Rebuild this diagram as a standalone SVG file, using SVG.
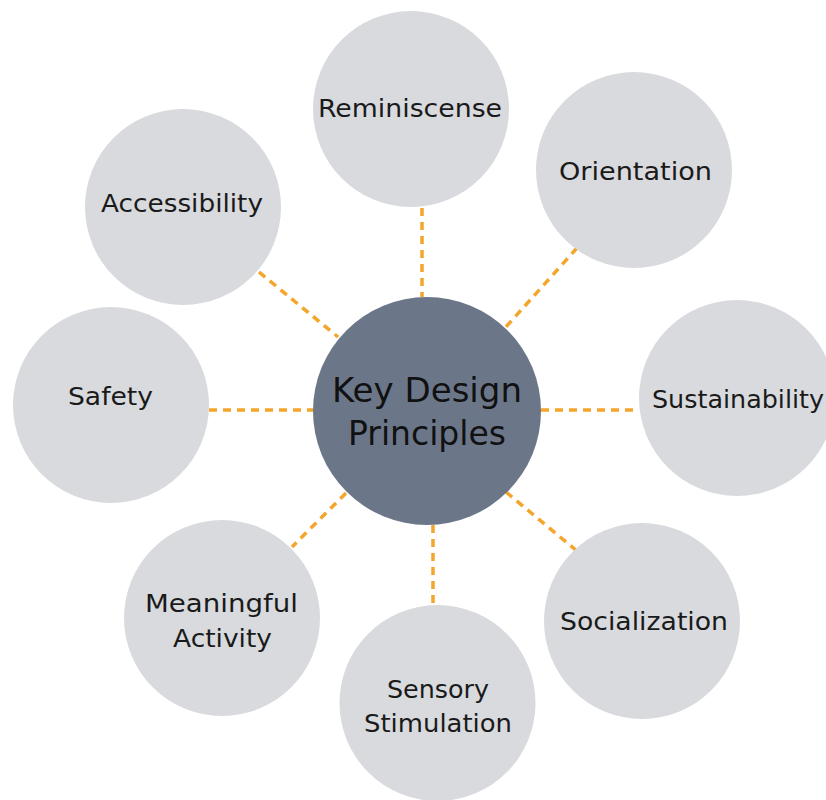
<svg xmlns="http://www.w3.org/2000/svg" width="826" height="800" viewBox="0 0 826 800">
<style>
.bg{fill:#ffffff}
.sat{fill:#D9DADE}
.hub{fill:#6B7789}
.lbl{font-family:"DejaVu Sans","Liberation Sans",sans-serif;font-size:24px;fill:#1a1a1a;text-anchor:middle}
.hubl{font-family:"DejaVu Sans","Liberation Sans",sans-serif;font-size:33px;fill:#111111;text-anchor:middle}
.con{stroke:#F4A52B;stroke-width:3.5;stroke-dasharray:8 6;fill:none}
</style>
<rect class="bg" x="0" y="0" width="826" height="800"/>
<g id="connectors">
<line class="con" x1="422" y1="208" x2="422" y2="297"/>
<line class="con" x1="577" y1="248" x2="505" y2="328"/>
<line class="con" x1="541" y1="410" x2="639" y2="410"/>
<line class="con" x1="506" y1="492" x2="577" y2="551"/>
<line class="con" x1="433" y1="525" x2="433" y2="605"/>
<line class="con" x1="346" y1="493" x2="292" y2="547"/>
<line class="con" x1="209" y1="410" x2="313" y2="410"/>
<line class="con" x1="259" y1="272" x2="338" y2="337"/>
</g>
<g id="reminiscense">
<circle class="sat" cx="411" cy="109" r="98"/>
<text class="lbl" x="410" y="117" textLength="184" lengthAdjust="spacingAndGlyphs">Reminiscense</text>
</g>
<g id="orientation">
<circle class="sat" cx="634" cy="170" r="98"/>
<text class="lbl" x="635.5" y="180" textLength="153" lengthAdjust="spacingAndGlyphs">Orientation</text>
</g>
<g id="sustainability">
<circle class="sat" cx="737" cy="398" r="98"/>
<text class="lbl" x="738" y="408" textLength="172" lengthAdjust="spacingAndGlyphs">Sustainability</text>
</g>
<g id="socialization">
<circle class="sat" cx="642" cy="621" r="98"/>
<text class="lbl" x="644" y="630" textLength="168" lengthAdjust="spacingAndGlyphs">Socialization</text>
</g>
<g id="sensory-stimulation">
<circle class="sat" cx="437.5" cy="703" r="98"/>
<text class="lbl" x="438" y="698" textLength="102" lengthAdjust="spacingAndGlyphs">Sensory</text>
<text class="lbl" x="438" y="732" textLength="148" lengthAdjust="spacingAndGlyphs">Stimulation</text>
</g>
<g id="meaningful-activity">
<circle class="sat" cx="222" cy="618" r="98"/>
<text class="lbl" x="221.5" y="612" textLength="153" lengthAdjust="spacingAndGlyphs">Meaningful</text>
<text class="lbl" x="222.5" y="647" textLength="99" lengthAdjust="spacingAndGlyphs">Activity</text>
</g>
<g id="safety">
<circle class="sat" cx="111" cy="405" r="98"/>
<text class="lbl" x="110.5" y="405" textLength="85" lengthAdjust="spacingAndGlyphs">Safety</text>
</g>
<g id="accessibility">
<circle class="sat" cx="183" cy="207" r="98"/>
<text class="lbl" x="182" y="212" textLength="162" lengthAdjust="spacingAndGlyphs">Accessibility</text>
</g>
<g id="key-design-principles">
<circle class="hub" cx="427" cy="411" r="114"/>
<text class="hubl" x="427" y="402" textLength="190" lengthAdjust="spacingAndGlyphs">Key Design</text>
<text class="hubl" x="427" y="445" textLength="158" lengthAdjust="spacingAndGlyphs">Principles</text>
</g>
</svg>
